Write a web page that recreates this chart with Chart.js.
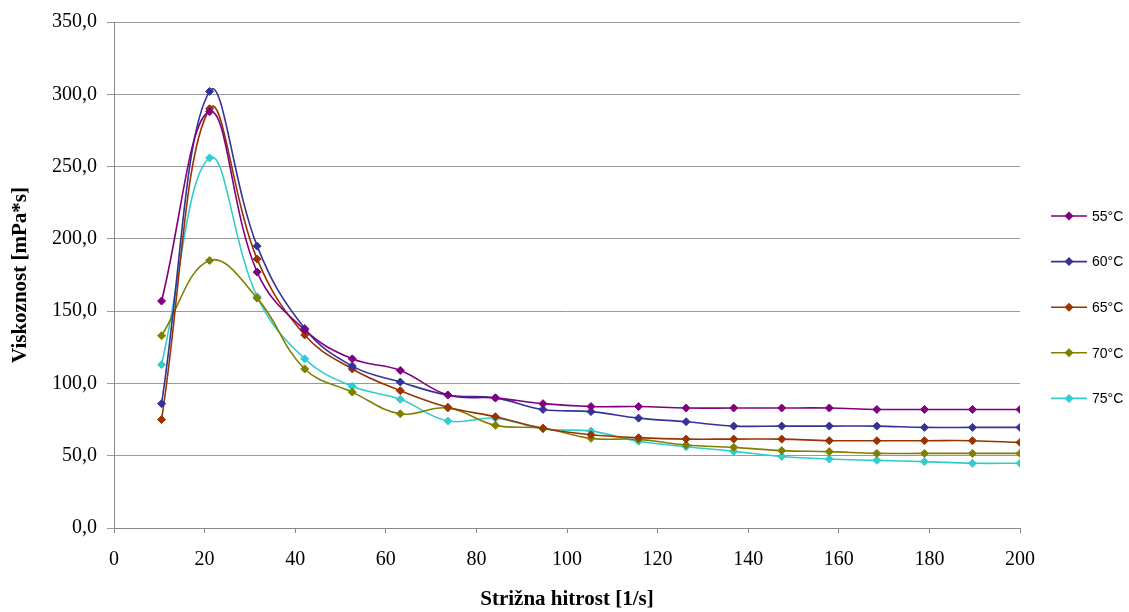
<!DOCTYPE html>
<html>
<head>
<meta charset="utf-8">
<script src="https://cdn.jsdelivr.net/npm/chart.js@4"></script>
<style>
  html, body { margin: 0; padding: 0; background: #fff; }
  .wrap { width: 1129px; height: 612px; position: relative; }
</style>
</head>
<body>
<div class="wrap"><canvas id="chart"></canvas></div>
<script>
const shearRates = [10.5, 21.1, 31.6, 42.1, 52.6, 63.2, 73.7, 84.2, 94.7, 105.3,
  115.8, 126.3, 136.8, 147.4, 157.9, 168.4, 178.9, 189.5, 200];

const labels = ["55°C", "60°C", "65°C", "70°C", "75°C"];
const colors = ["#800080", "#333399", "#993300", "#808000", "#33CCCC"];

const v55 = [157, 288, 177, 137, 117, 109, 92, 90, 86, 84, 84, 83, 83, 83, 83, 82, 82, 82, 82];
const v60 = [86, 302, 195, 138, 112, 101, 92, 90, 82, 80.5, 76, 73.5, 70.5, 70.5, 70.5, 70.5, 69.6, 69.6, 69.6];
const v65 = [75, 290, 186, 133.5, 110, 95, 83.5, 77, 69, 64.5, 62.5, 61.5, 61.5, 61.5, 60.4, 60.4, 60.4, 60.4, 59.2];
const v70 = [133, 185, 159, 110, 94, 79, 83, 71, 69, 62, 61.3, 57.4, 55.8, 53.5, 52.8, 51.6, 51.6, 51.6, 51.6];
const v75 = [113, 256, 160, 117, 98, 89, 74, 76, 68.5, 67, 60, 56.2, 53, 49.5, 47.7, 46.8, 45.9, 44.8, 44.8];

const series = [v55, v60, v65, v70, v75];

const datasets = series.map((vals, i) => ({
  label: labels[i],
  data: vals.map((v, k) => ({ x: shearRates[k], y: v })),
  borderColor: colors[i],
  backgroundColor: colors[i],
  borderWidth: 1.6,
  pointStyle: "rectRot",
  pointRadius: 4,
  pointHoverRadius: 4,
  pointBorderWidth: 1,
  tension: 0.4,
}));

// legend on the right, drawn by hand: line + diamond + text
const sideLegend = {
  id: "sideLegend",
  afterDraw(chart) {
    const ctx = chart.ctx;
    ctx.save();
    const x0 = 1051, x1 = 1087, tx = 1092;
    chart.data.datasets.forEach((ds, i) => {
      const y = 216 + i * 45.6;
      ctx.strokeStyle = ds.borderColor;
      ctx.lineWidth = 1.6;
      ctx.beginPath();
      ctx.moveTo(x0, y);
      ctx.lineTo(x1, y);
      ctx.stroke();
      ctx.fillStyle = ds.borderColor;
      ctx.beginPath();
      const m = (x0 + x1) / 2, r = 4.5;
      ctx.moveTo(m, y - r);
      ctx.lineTo(m + r, y);
      ctx.lineTo(m, y + r);
      ctx.lineTo(m - r, y);
      ctx.closePath();
      ctx.fill();
      ctx.fillStyle = "#000";
      ctx.font = "14px 'Liberation Sans', sans-serif";
      ctx.textBaseline = "middle";
      ctx.textAlign = "left";
      ctx.fillText(ds.label, tx, y + 1);
    });
    ctx.restore();
  },
};

const tickFont = { family: "'Liberation Serif', serif", size: 20 };
const titleFont = { family: "'Liberation Serif', serif", size: 21, weight: "bold" };

new Chart(document.getElementById("chart").getContext("2d"), {
  type: "line",
  data: { datasets },
  options: {
    responsive: true,
    maintainAspectRatio: false,
    animation: false,
    layout: { padding: { top: 22, right: 109, left: 4, bottom: 0 } },
    plugins: {
      legend: { display: false },
      tooltip: { enabled: false },
    },
    scales: {
      x: {
        type: "linear",
        min: 0,
        max: 200,
        ticks: {
          stepSize: 20,
          color: "#000",
          font: tickFont,
          padding: 15,
          maxRotation: 0,
        },
        grid: {
          drawOnChartArea: false,
          drawTicks: true,
          tickLength: 5,
          color: "#888",
        },
        border: { display: true, color: "#888" },
        title: {
          display: true,
          text: "Strižna hitrost [1/s]",
          color: "#000",
          font: titleFont,
          padding: { top: 4, bottom: 0 },
        },
        afterFit(scale) { scale.height = 84; },
      },
      y: {
        min: 0,
        max: 350,
        ticks: {
          stepSize: 50,
          color: "#000",
          font: tickFont,
          padding: 10,
          callback: (v) => v.toFixed(1).replace(".", ","),
        },
        grid: {
          color: "#999",
          lineWidth: 1,
          tickLength: 7,
        },
        border: { display: true, color: "#888" },
        title: {
          display: true,
          text: "Viskoznost [mPa*s]",
          color: "#000",
          font: titleFont,
          padding: { top: 4, bottom: 4 },
        },
        afterFit(scale) { scale.width = 110; },
      },
    },
  },
  plugins: [sideLegend],
});
</script>
</body>
</html>
